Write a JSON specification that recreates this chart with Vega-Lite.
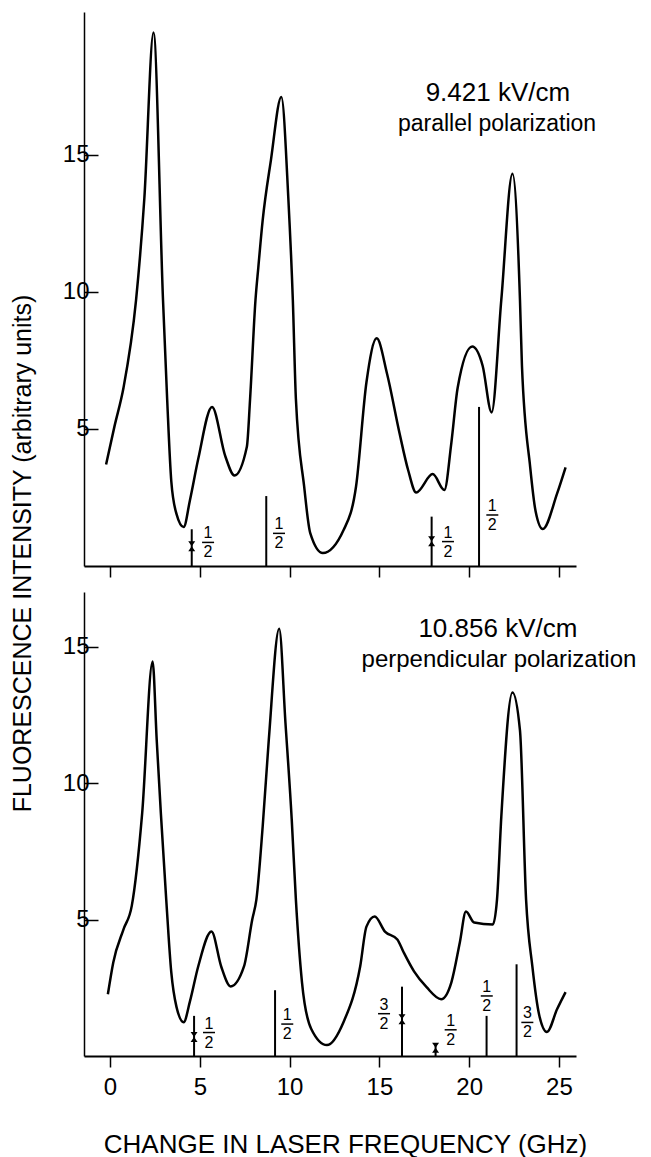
{
  "$schema": "https://vega.github.io/schema/vega-lite/v6.json",
  "padding": {"left": 10, "top": 12, "right": 5, "bottom": 0},
  "background": "white",
  "bounds": "flush",
  "spacing": 26,
  "config": {
    "view": {"stroke": null},
    "font": "Liberation Sans",
    "axis": {"grid": false, "domainColor": "black", "tickColor": "black", "labelColor": "black", "titleColor": "black", "labelFont": "Liberation Sans", "titleFont": "Liberation Sans", "titleFontWeight": "normal"}
  },
  "datasets": {
    "curve": [
      {"panel": "top", "f": -0.22, "v": 3.7},
      {"panel": "top", "f": 0.25, "v": 5.1},
      {"panel": "top", "f": 0.75, "v": 6.5},
      {"panel": "top", "f": 1.45, "v": 9.7},
      {"panel": "top", "f": 1.91, "v": 13.4},
      {"panel": "top", "f": 2.42, "v": 19.45},
      {"panel": "top", "f": 2.95, "v": 9.7},
      {"panel": "top", "f": 3.18, "v": 6.1},
      {"panel": "top", "f": 3.41, "v": 3.1},
      {"panel": "top", "f": 3.7, "v": 1.9},
      {"panel": "top", "f": 4.1, "v": 1.42},
      {"panel": "top", "f": 4.45, "v": 2.4},
      {"panel": "top", "f": 4.91, "v": 3.9},
      {"panel": "top", "f": 5.68, "v": 5.8},
      {"panel": "top", "f": 6.42, "v": 4.0},
      {"panel": "top", "f": 6.93, "v": 3.3},
      {"panel": "top", "f": 7.62, "v": 4.35},
      {"panel": "top", "f": 7.8, "v": 6.1},
      {"panel": "top", "f": 8.1, "v": 9.7},
      {"panel": "top", "f": 8.26, "v": 10.9},
      {"panel": "top", "f": 8.5, "v": 12.6},
      {"panel": "top", "f": 8.96, "v": 14.8},
      {"panel": "top", "f": 9.54, "v": 17.1},
      {"panel": "top", "f": 9.93, "v": 13.4},
      {"panel": "top", "f": 10.18, "v": 9.7},
      {"panel": "top", "f": 10.35, "v": 6.1},
      {"panel": "top", "f": 10.81, "v": 2.9},
      {"panel": "top", "f": 11.15, "v": 1.2},
      {"panel": "top", "f": 11.85, "v": 0.47},
      {"panel": "top", "f": 13.0, "v": 1.3},
      {"panel": "top", "f": 13.7, "v": 2.9},
      {"panel": "top", "f": 14.28, "v": 6.7},
      {"panel": "top", "f": 14.85, "v": 8.3},
      {"panel": "top", "f": 15.43, "v": 7.0},
      {"panel": "top", "f": 16.12, "v": 4.85},
      {"panel": "top", "f": 16.6, "v": 3.5},
      {"panel": "top", "f": 17.05, "v": 2.68},
      {"panel": "top", "f": 17.97, "v": 3.35},
      {"panel": "top", "f": 18.62, "v": 2.77},
      {"panel": "top", "f": 19.01, "v": 4.5},
      {"panel": "top", "f": 19.36, "v": 6.5},
      {"panel": "top", "f": 20.17, "v": 8.0},
      {"panel": "top", "f": 20.75, "v": 7.3},
      {"panel": "top", "f": 21.25, "v": 5.6},
      {"panel": "top", "f": 21.79, "v": 9.7},
      {"panel": "top", "f": 22.41, "v": 14.3},
      {"panel": "top", "f": 22.83, "v": 9.7},
      {"panel": "top", "f": 22.94, "v": 7.3},
      {"panel": "top", "f": 23.4, "v": 3.6},
      {"panel": "top", "f": 23.7, "v": 2.0},
      {"panel": "top", "f": 24.1, "v": 1.35},
      {"panel": "top", "f": 24.9, "v": 2.65},
      {"panel": "top", "f": 25.37, "v": 3.6},
      {"panel": "bottom", "f": -0.12, "v": 2.26},
      {"panel": "bottom", "f": 0.18, "v": 3.43},
      {"panel": "bottom", "f": 0.75, "v": 4.64},
      {"panel": "bottom", "f": 1.21, "v": 5.5},
      {"panel": "bottom", "f": 1.79, "v": 8.9},
      {"panel": "bottom", "f": 2.37, "v": 14.45},
      {"panel": "bottom", "f": 2.6, "v": 11.57},
      {"panel": "bottom", "f": 2.83, "v": 8.9},
      {"panel": "bottom", "f": 3.13, "v": 5.73},
      {"panel": "bottom", "f": 3.41, "v": 3.07},
      {"panel": "bottom", "f": 3.7, "v": 1.8},
      {"panel": "bottom", "f": 4.1, "v": 1.24},
      {"panel": "bottom", "f": 4.45, "v": 2.0},
      {"panel": "bottom", "f": 4.91, "v": 3.28},
      {"panel": "bottom", "f": 5.65, "v": 4.56},
      {"panel": "bottom", "f": 6.19, "v": 3.28},
      {"panel": "bottom", "f": 6.72, "v": 2.55},
      {"panel": "bottom", "f": 7.46, "v": 3.28},
      {"panel": "bottom", "f": 7.92, "v": 5.0},
      {"panel": "bottom", "f": 8.15, "v": 5.73},
      {"panel": "bottom", "f": 8.5, "v": 8.4},
      {"panel": "bottom", "f": 8.84, "v": 11.57},
      {"panel": "bottom", "f": 9.42, "v": 15.65},
      {"panel": "bottom", "f": 9.77, "v": 12.2},
      {"panel": "bottom", "f": 10.12, "v": 8.65},
      {"panel": "bottom", "f": 10.35, "v": 5.73},
      {"panel": "bottom", "f": 10.69, "v": 2.7},
      {"panel": "bottom", "f": 11.2, "v": 1.0},
      {"panel": "bottom", "f": 12.08, "v": 0.4},
      {"panel": "bottom", "f": 13.0, "v": 1.24},
      {"panel": "bottom", "f": 13.93, "v": 3.28},
      {"panel": "bottom", "f": 14.28, "v": 4.74},
      {"panel": "bottom", "f": 14.74, "v": 5.11},
      {"panel": "bottom", "f": 15.31, "v": 4.56},
      {"panel": "bottom", "f": 16.0, "v": 4.27},
      {"panel": "bottom", "f": 16.35, "v": 3.8},
      {"panel": "bottom", "f": 16.93, "v": 3.1},
      {"panel": "bottom", "f": 17.63, "v": 2.52},
      {"panel": "bottom", "f": 18.44, "v": 2.08},
      {"panel": "bottom", "f": 19.01, "v": 2.7},
      {"panel": "bottom", "f": 19.48, "v": 4.16},
      {"panel": "bottom", "f": 19.82, "v": 5.29},
      {"panel": "bottom", "f": 20.28, "v": 4.89},
      {"panel": "bottom", "f": 21.32, "v": 4.82},
      {"panel": "bottom", "f": 21.55, "v": 5.73},
      {"panel": "bottom", "f": 21.79, "v": 8.76},
      {"panel": "bottom", "f": 22.41, "v": 13.32},
      {"panel": "bottom", "f": 22.83, "v": 11.93},
      {"panel": "bottom", "f": 23.17, "v": 5.73},
      {"panel": "bottom", "f": 23.52, "v": 3.28},
      {"panel": "bottom", "f": 23.9, "v": 1.5},
      {"panel": "bottom", "f": 24.33, "v": 0.88},
      {"panel": "bottom", "f": 24.9, "v": 1.72},
      {"panel": "bottom", "f": 25.37, "v": 2.34}
    ],
    "sticks": [
      {"panel": "top", "f": 4.55, "v": 1.34},
      {"panel": "top", "f": 8.7, "v": 2.55},
      {"panel": "top", "f": 17.91, "v": 1.8},
      {"panel": "top", "f": 20.55, "v": 5.8},
      {"panel": "bottom", "f": 4.68, "v": 1.47},
      {"panel": "bottom", "f": 9.19, "v": 2.41},
      {"panel": "bottom", "f": 16.26, "v": 2.54},
      {"panel": "bottom", "f": 18.13, "v": 0.4},
      {"panel": "bottom", "f": 20.97, "v": 1.47},
      {"panel": "bottom", "f": 22.64, "v": 3.36}
    ],
    "markers": [
      {"panel": "top", "f": 4.55, "v": 0.72},
      {"panel": "top", "f": 17.91, "v": 0.9},
      {"panel": "bottom", "f": 4.68, "v": 0.7},
      {"panel": "bottom", "f": 16.26, "v": 1.35},
      {"panel": "bottom", "f": 18.13, "v": 0.3}
    ],
    "fractions": [
      {"panel": "top", "f": 5.46, "v": 0.86, "num": "1", "den": "2"},
      {"panel": "top", "f": 9.41, "v": 1.19, "num": "1", "den": "2"},
      {"panel": "top", "f": 18.82, "v": 0.89, "num": "1", "den": "2"},
      {"panel": "top", "f": 21.29, "v": 1.86, "num": "1", "den": "2"},
      {"panel": "bottom", "f": 5.51, "v": 0.86, "num": "1", "den": "2"},
      {"panel": "bottom", "f": 9.87, "v": 1.17, "num": "1", "den": "2"},
      {"panel": "bottom", "f": 15.26, "v": 1.55, "num": "3", "den": "2"},
      {"panel": "bottom", "f": 18.97, "v": 0.96, "num": "1", "den": "2"},
      {"panel": "bottom", "f": 20.98, "v": 2.2, "num": "1", "den": "2"},
      {"panel": "bottom", "f": 23.24, "v": 1.23, "num": "3", "den": "2"}
    ],
    "notes": [
      {"panel": "top", "kind": "field", "f": 21.6, "v": 16.97, "t": "9.421 kV/cm"},
      {"panel": "top", "kind": "pol", "f": 21.55, "v": 15.85, "t": "parallel polarization"},
      {"panel": "bottom", "kind": "field", "f": 21.6, "v": 15.35, "t": "10.856 kV/cm"},
      {"panel": "bottom", "kind": "pol", "f": 21.66, "v": 14.25, "t": "perpendicular polarization"}
    ]
  },
  "vconcat": [
    {
      "width": 492,
      "height": 554,
      "encoding": {
        "x": {"field": "f", "type": "quantitative", "scale": {"domain": [-1.45, 25.95], "nice": false, "zero": false},
          "axis": {"values": [0, 5, 10, 15, 20, 25], "labels": false, "title": null, "tickSize": 11, "tickWidth": 1.5, "domainWidth": 2}},
        "y": {"field": "v", "type": "quantitative", "scale": {"domain": [0, 20.2], "nice": false},
          "axis": {"values": [5, 10, 15], "tickSize": -14, "tickWidth": 1.5, "domainWidth": 1.5, "labelFontSize": 24, "labelPadding": 9,
            "title": "FLUORESCENCE INTENSITY (arbitrary units)", "titleFontSize": 25, "titleAngle": 270, "titleX": -62, "titleY": 541, "titleBaseline": "middle", "titleAlign": "center", "titleLimit": 1000}}
      },
      "layer": [
        {"data": {"name": "curve"}, "transform": [{"filter": "datum.panel === 'top'"}],
          "mark": {"type": "line", "interpolate": "monotone", "color": "black", "strokeWidth": 2.5}},
        {"data": {"name": "sticks"}, "transform": [{"filter": "datum.panel === 'top'"}],
          "mark": {"type": "rule", "color": "black", "strokeWidth": 2}, "encoding": {"y2": {"datum": 0}}},
        {"data": {"name": "markers"}, "transform": [{"filter": "datum.panel === 'top'"}],
          "mark": {"type": "point", "shape": "M-0.7,-1L0.7,-1L-0.7,1L0.7,1Z", "filled": true, "color": "black", "size": 100, "opacity": 1}},
        {"data": {"name": "fractions"}, "transform": [{"filter": "datum.panel === 'top'"}],
          "mark": {"type": "text", "fontSize": 16, "dy": -9, "color": "black", "font": "Liberation Sans"}, "encoding": {"text": {"field": "num"}}},
        {"data": {"name": "fractions"}, "transform": [{"filter": "datum.panel === 'top'"}],
          "mark": {"type": "text", "fontSize": 16, "dy": 10, "color": "black", "font": "Liberation Sans"}, "encoding": {"text": {"field": "den"}}},
        {"data": {"name": "fractions"}, "transform": [{"filter": "datum.panel === 'top'"}],
          "mark": {"type": "tick", "orient": "horizontal", "size": 12, "thickness": 1.5, "color": "black", "opacity": 1}},
        {"data": {"name": "notes"}, "transform": [{"filter": "datum.panel === 'top' && datum.kind === 'field'"}],
          "mark": {"type": "text", "fontSize": 26, "baseline": "alphabetic", "align": "center", "color": "black", "font": "Liberation Sans"}, "encoding": {"text": {"field": "t"}}},
        {"data": {"name": "notes"}, "transform": [{"filter": "datum.panel === 'top' && datum.kind === 'pol'"}],
          "mark": {"type": "text", "fontSize": 23, "baseline": "alphabetic", "align": "center", "color": "black", "font": "Liberation Sans"}, "encoding": {"text": {"field": "t"}}}
      ]
    },
    {
      "width": 492,
      "height": 464,
      "encoding": {
        "x": {"field": "f", "type": "quantitative", "scale": {"domain": [-1.45, 25.95], "nice": false, "zero": false},
          "axis": {"values": [0, 5, 10, 15, 20, 25], "tickSize": 11, "tickWidth": 1.5, "domainWidth": 2, "labelFontSize": 24, "labelPadding": 8,
            "title": "CHANGE IN LASER FREQUENCY (GHz)", "titleFontSize": 26, "titleX": 261, "titleY": 96, "titleBaseline": "alphabetic", "titleAlign": "center", "titleLimit": 1000}},
        "y": {"field": "v", "type": "quantitative", "scale": {"domain": [0, 17], "nice": false},
          "axis": {"values": [5, 10, 15], "tickSize": -14, "tickWidth": 1.5, "domainWidth": 1.5, "labelFontSize": 24, "labelPadding": 9, "title": null}}
      },
      "layer": [
        {"data": {"name": "curve"}, "transform": [{"filter": "datum.panel === 'bottom'"}],
          "mark": {"type": "line", "interpolate": "monotone", "color": "black", "strokeWidth": 2.5}},
        {"data": {"name": "sticks"}, "transform": [{"filter": "datum.panel === 'bottom'"}],
          "mark": {"type": "rule", "color": "black", "strokeWidth": 2}, "encoding": {"y2": {"datum": 0}}},
        {"data": {"name": "markers"}, "transform": [{"filter": "datum.panel === 'bottom'"}],
          "mark": {"type": "point", "shape": "M-0.7,-1L0.7,-1L-0.7,1L0.7,1Z", "filled": true, "color": "black", "size": 100, "opacity": 1}},
        {"data": {"name": "fractions"}, "transform": [{"filter": "datum.panel === 'bottom'"}],
          "mark": {"type": "text", "fontSize": 16, "dy": -9, "color": "black", "font": "Liberation Sans"}, "encoding": {"text": {"field": "num"}}},
        {"data": {"name": "fractions"}, "transform": [{"filter": "datum.panel === 'bottom'"}],
          "mark": {"type": "text", "fontSize": 16, "dy": 10, "color": "black", "font": "Liberation Sans"}, "encoding": {"text": {"field": "den"}}},
        {"data": {"name": "fractions"}, "transform": [{"filter": "datum.panel === 'bottom'"}],
          "mark": {"type": "tick", "orient": "horizontal", "size": 12, "thickness": 1.5, "color": "black", "opacity": 1}},
        {"data": {"name": "notes"}, "transform": [{"filter": "datum.panel === 'bottom' && datum.kind === 'field'"}],
          "mark": {"type": "text", "fontSize": 26, "baseline": "alphabetic", "align": "center", "color": "black", "font": "Liberation Sans"}, "encoding": {"text": {"field": "t"}}},
        {"data": {"name": "notes"}, "transform": [{"filter": "datum.panel === 'bottom' && datum.kind === 'pol'"}],
          "mark": {"type": "text", "fontSize": 24, "baseline": "alphabetic", "align": "center", "color": "black", "font": "Liberation Sans"}, "encoding": {"text": {"field": "t"}}}
      ]
    }
  ]
}
